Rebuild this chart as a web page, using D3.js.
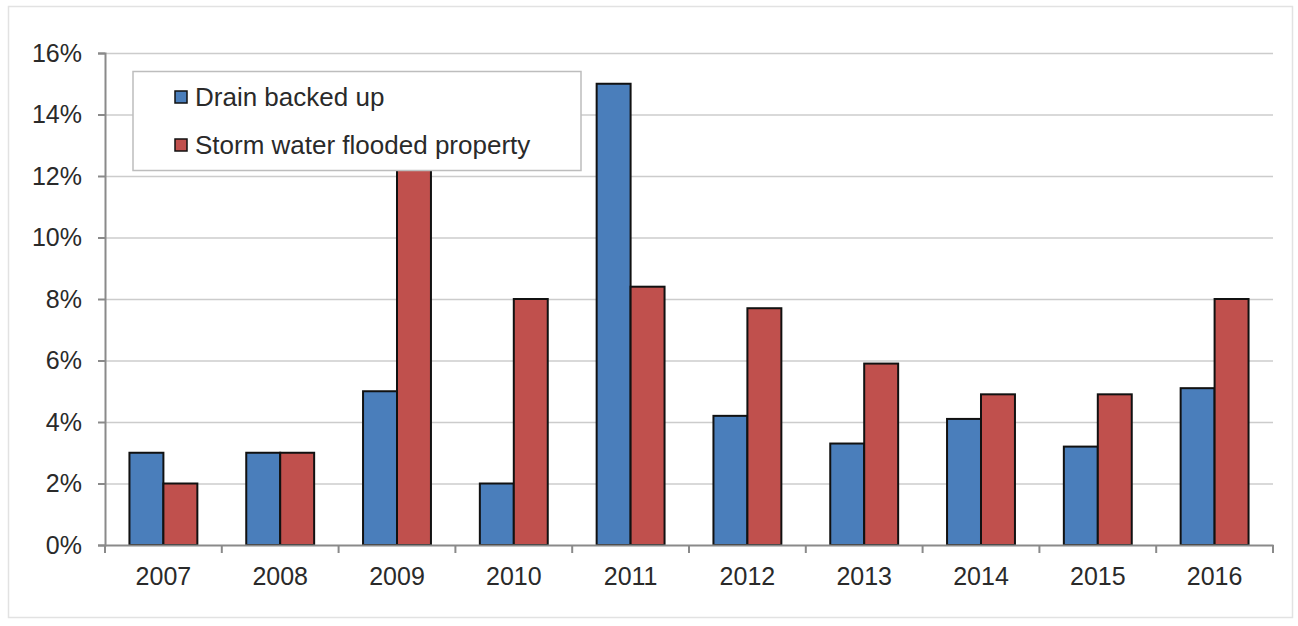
<!DOCTYPE html>
<html><head><meta charset="utf-8">
<script src="https://cdn.jsdelivr.net/npm/d3@7"></script>
<style>body{margin:0;background:#fff}svg{display:block}</style>
</head><body>
<svg id="c" width="1298" height="626"></svg>
<script>
const years = ["2007","2008","2009","2010","2011","2012","2013","2014","2015","2016"];
const drainBackedUp = [3.0, 3.0, 5.0, 2.0, 15.0, 4.2, 3.3, 4.1, 3.2, 5.1];
const stormFlooded = [2.0, 3.0, 12.6, 8.0, 8.4, 7.7, 5.9, 4.9, 4.9, 8.0];
const seriesNames = ["Drain backed up", "Storm water flooded property"];
const seriesColors = ["#4a7ebb", "#c0504d"];
const yTicks = [0, 2, 4, 6, 8, 10, 12, 14, 16];

(function () {
const svg = d3.select("#c");
const font = "Liberation Sans, Arial, sans-serif";
svg.append("rect").attr("x", 8.5).attr("y", 6.5).attr("width", 1284).attr("height", 611)
  .attr("fill", "#fff").attr("stroke", "#e2e2e2").attr("stroke-width", 1.5);

const pl = 105, pr = 1273, pt = 53, pb = 545;
const x = d3.scaleBand().domain(years).range([pl, pr]).paddingInner(0).paddingOuter(0);
const y = d3.scaleLinear().domain([0, 16]).range([pb, pt]);
const inner = d3.scaleBand().domain([0, 1]).range([0, x.bandwidth()]).paddingOuter(0.72).paddingInner(0);

// gridlines
svg.append("g").selectAll("line").data(yTicks.filter(d => d > 0)).join("line")
  .attr("x1", pl).attr("x2", pr).attr("y1", d => y(d) + 0.5).attr("y2", d => y(d) + 0.5)
  .attr("stroke", "#cccccc").attr("stroke-width", 1.5);

// y axis
const ya = svg.append("g").attr("transform", `translate(${pl},0)`)
  .call(d3.axisLeft(y).tickValues(yTicks).tickFormat(d => d + "%").tickSize(7).tickPadding(16));
ya.select(".domain").attr("stroke", "#8a8a8a").attr("stroke-width", 2);
ya.selectAll(".tick line").attr("stroke", "#8a8a8a").attr("stroke-width", 2);
ya.selectAll("text").attr("font-family", font).attr("font-size", 25).attr("fill", "#2a2a2a");

// bars
const data = years.map((yr, i) => ({ yr, vals: [drainBackedUp[i], stormFlooded[i]] }));
const groups = svg.append("g").selectAll("g").data(data).join("g")
  .attr("transform", d => `translate(${x(d.yr)},0)`);
groups.selectAll("rect").data(d => d.vals.map((v, k) => ({ v, k }))).join("rect")
  .attr("x", d => inner(d.k)).attr("width", inner.bandwidth())
  .attr("y", d => y(d.v)).attr("height", d => y(0) - y(d.v))
  .attr("fill", d => seriesColors[d.k]).attr("stroke", "#111").attr("stroke-width", 2);

// x axis
const xa = svg.append("g").attr("transform", `translate(0,${pb})`)
  .call(d3.axisBottom(x).tickSize(0).tickPadding(22));
xa.select(".domain").attr("stroke", "#8a8a8a").attr("stroke-width", 2);
xa.selectAll("text").attr("font-family", font).attr("font-size", 25).attr("fill", "#2a2a2a");
svg.append("g").selectAll("line").data(years.map(yr => x(yr)).concat([pr])).join("line")
  .attr("x1", d => d).attr("x2", d => d).attr("y1", pb).attr("y2", pb + 8)
  .attr("stroke", "#8a8a8a").attr("stroke-width", 2);

// legend
const lg = svg.append("g");
lg.append("rect").attr("x", 133).attr("y", 71.5).attr("width", 448).attr("height", 99)
  .attr("fill", "#fff").attr("stroke", "#bdbdbd").attr("stroke-width", 1.5);
const items = lg.selectAll("g").data(seriesNames).join("g")
  .attr("transform", (d, i) => `translate(175,${97 + i * 48})`);
items.append("rect").attr("x", 0).attr("y", -6).attr("width", 12).attr("height", 12)
  .attr("fill", (d, i) => seriesColors[i]).attr("stroke", "#111").attr("stroke-width", 1.5);
items.append("text").attr("x", 20).attr("y", 0).attr("dy", "0.36em")
  .attr("font-family", font).attr("font-size", 26).attr("fill", "#2a2a2a").text(d => d);
})();
</script>
</body></html>
